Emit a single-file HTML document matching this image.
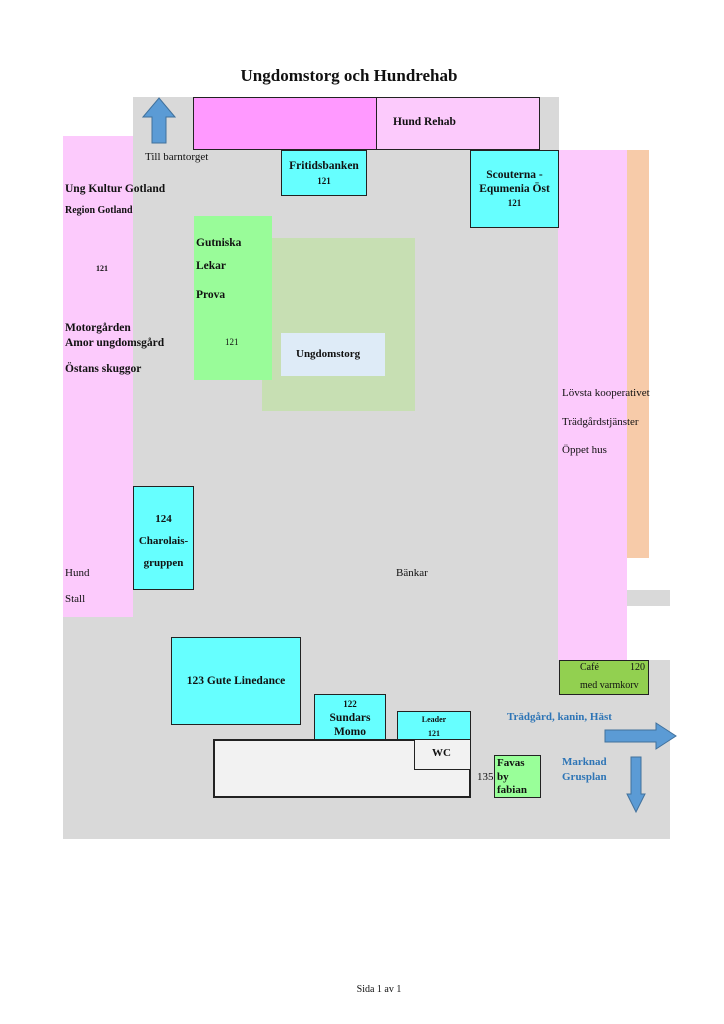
<!DOCTYPE html>
<html><head><meta charset="utf-8"><style>
body{margin:0;width:724px;height:1024px;background:#fff;position:relative;overflow:hidden;font-family:"Liberation Serif",serif;color:#111}
div{position:absolute;box-sizing:border-box}
.t{white-space:nowrap;font-size:11px}
.b{font-weight:bold}
.bx{border:1.5px solid #222}
</style></head><body>
<div class="t b" style="left:0;width:698px;top:66px;text-align:center;font-size:17px">Ungdomstorg och Hundrehab</div>
<div style="left:133px;top:97px;width:426px;height:742px;background:#d9d9d9"></div>
<div style="left:63px;top:617px;width:496px;height:222px;background:#d9d9d9"></div>
<div style="left:558px;top:660px;width:112px;height:179px;background:#d9d9d9"></div>
<div style="left:627px;top:590px;width:43px;height:16px;background:#d9d9d9"></div>
<div style="left:63px;top:136px;width:70px;height:481px;background:#fccafc"></div>
<div style="left:558px;top:150px;width:69px;height:510px;background:#fccafc"></div>
<div style="left:627px;top:150px;width:22px;height:408px;background:#f7cba9"></div>
<div style="left:262px;top:238px;width:153px;height:173px;background:#c7dfb3"></div>
<div style="left:194px;top:216px;width:78px;height:164px;background:#99fc99"></div>
<div style="left:281px;top:333px;width:104px;height:43px;background:#deebf7"></div>
<div class="t b" style="left:296px;top:348px">Ungdomstorg</div>
<div class="bx" style="left:193px;top:97px;width:184px;height:53px;background:#ff99ff"></div>
<div class="bx" style="left:376px;top:97px;width:164px;height:53px;background:#fccafc"></div>
<div class="t b" style="left:393px;top:116px;font-size:11.5px">Hund Rehab</div>
<svg style="position:absolute;left:142px;top:97px" width="34" height="48"><polygon points="17,1 33,20 24,20 24,46 10,46 10,20 1,20" fill="#5b9bd5" stroke="#41719c"/></svg>
<div class="t" style="left:145px;top:151px">Till barntorget</div>
<div class="bx" style="left:281px;top:150px;width:86px;height:46px;background:#66ffff"></div>
<div class="t b" style="left:281px;top:159px;width:86px;text-align:center;font-size:11.5px;line-height:15px">Fritidsbanken<br><span style="font-size:9px">121</span></div>
<div class="bx" style="left:470px;top:150px;width:89px;height:78px;background:#66ffff"></div>
<div class="t b" style="left:470px;top:168px;width:89px;text-align:center;line-height:14px;font-size:11.5px">Scouterna -<br>Equmenia Öst<br><span style="font-size:9px">121</span></div>
<div class="t b" style="left:65px;top:183px;font-size:11.5px">Ung Kultur Gotland</div>
<div class="t b" style="left:65px;top:205px;font-size:10px">Region Gotland</div>
<div class="t b" style="left:96px;top:264px;font-size:8px">121</div>
<div class="t b" style="left:65px;top:321px;line-height:15px;font-size:11.5px">Motorgården<br>Amor ungdomsgård</div>
<div class="t b" style="left:65px;top:363px;font-size:11.5px">Östans skuggor</div>
<div class="t b" style="left:196px;top:237px;font-size:11.5px">Gutniska</div>
<div class="t b" style="left:196px;top:260px;font-size:11.5px">Lekar</div>
<div class="t b" style="left:196px;top:289px;font-size:11.5px">Prova</div>
<div class="t" style="left:225px;top:337px;font-size:9px">121</div>
<div class="t" style="left:562px;top:387px">Lövsta kooperativet</div>
<div class="t" style="left:562px;top:416px">Trädgårdstjänster</div>
<div class="t" style="left:562px;top:444px">Öppet hus</div>
<div class="bx" style="left:133px;top:486px;width:61px;height:104px;background:#66ffff"></div>
<div class="t b" style="left:133px;top:508px;width:61px;text-align:center;line-height:22px">124<br>Charolais-<br>gruppen</div>
<div class="t" style="left:65px;top:567px">Hund</div>
<div class="t" style="left:65px;top:593px">Stall</div>
<div class="t" style="left:396px;top:567px">Bänkar</div>
<div class="bx" style="left:171px;top:637px;width:130px;height:88px;background:#66ffff"></div>
<div class="t b" style="left:171px;top:675px;width:130px;text-align:center;font-size:11.5px">123 Gute Linedance</div>
<div class="bx" style="left:213px;top:739px;width:258px;height:59px;background:#f2f2f2;border-width:2px"></div>
<div class="bx" style="left:314px;top:694px;width:72px;height:46px;background:#66ffff"></div>
<div class="t b" style="left:314px;top:697px;width:72px;text-align:center;line-height:14px;font-size:11.5px"><span style="font-size:9px">122</span><br>Sundars<br>Momo</div>
<div class="bx" style="left:397px;top:711px;width:74px;height:29px;background:#66ffff"></div>
<div class="t b" style="left:397px;top:713px;width:74px;text-align:center;font-size:8px;line-height:14px">Leader<br>121</div>
<div class="bx" style="left:414px;top:739px;width:57px;height:31px;background:#f2f2f2"></div>
<div class="t b" style="left:432px;top:747px">WC</div>
<div class="t" style="left:477px;top:771px">135</div>
<div class="bx" style="left:494px;top:755px;width:47px;height:43px;background:#99ff99"></div>
<div class="t b" style="left:497px;top:757px;line-height:13.5px">Favas<br>by<br>fabian</div>
<div class="bx" style="left:559px;top:660px;width:90px;height:35px;background:#92d050"></div>
<div class="t" style="left:580px;top:662px;font-size:10px">Café</div>
<div class="t" style="left:630px;top:662px;font-size:10px">120</div>
<div class="t" style="left:580px;top:680px;font-size:10px">med varmkorv</div>
<div class="t b" style="left:507px;top:711px;color:#2e75b6">Trädgård, kanin, Häst</div>
<div class="t b" style="left:562px;top:755px;color:#2e75b6;line-height:15px">Marknad<br>Grusplan</div>
<svg style="position:absolute;left:604px;top:722px" width="74" height="28"><polygon points="1,8 52,8 52,1 72,14 52,27 52,20 1,20" fill="#5b9bd5" stroke="#41719c"/></svg>
<svg style="position:absolute;left:626px;top:756px" width="20" height="58"><polygon points="5,1 15,1 15,38 19,38 10,56 1,38 5,38" fill="#5b9bd5" stroke="#41719c"/></svg>
<div class="t" style="left:0;width:758px;top:984px;text-align:center;font-size:10px">Sida 1 av 1</div>
</body></html>
